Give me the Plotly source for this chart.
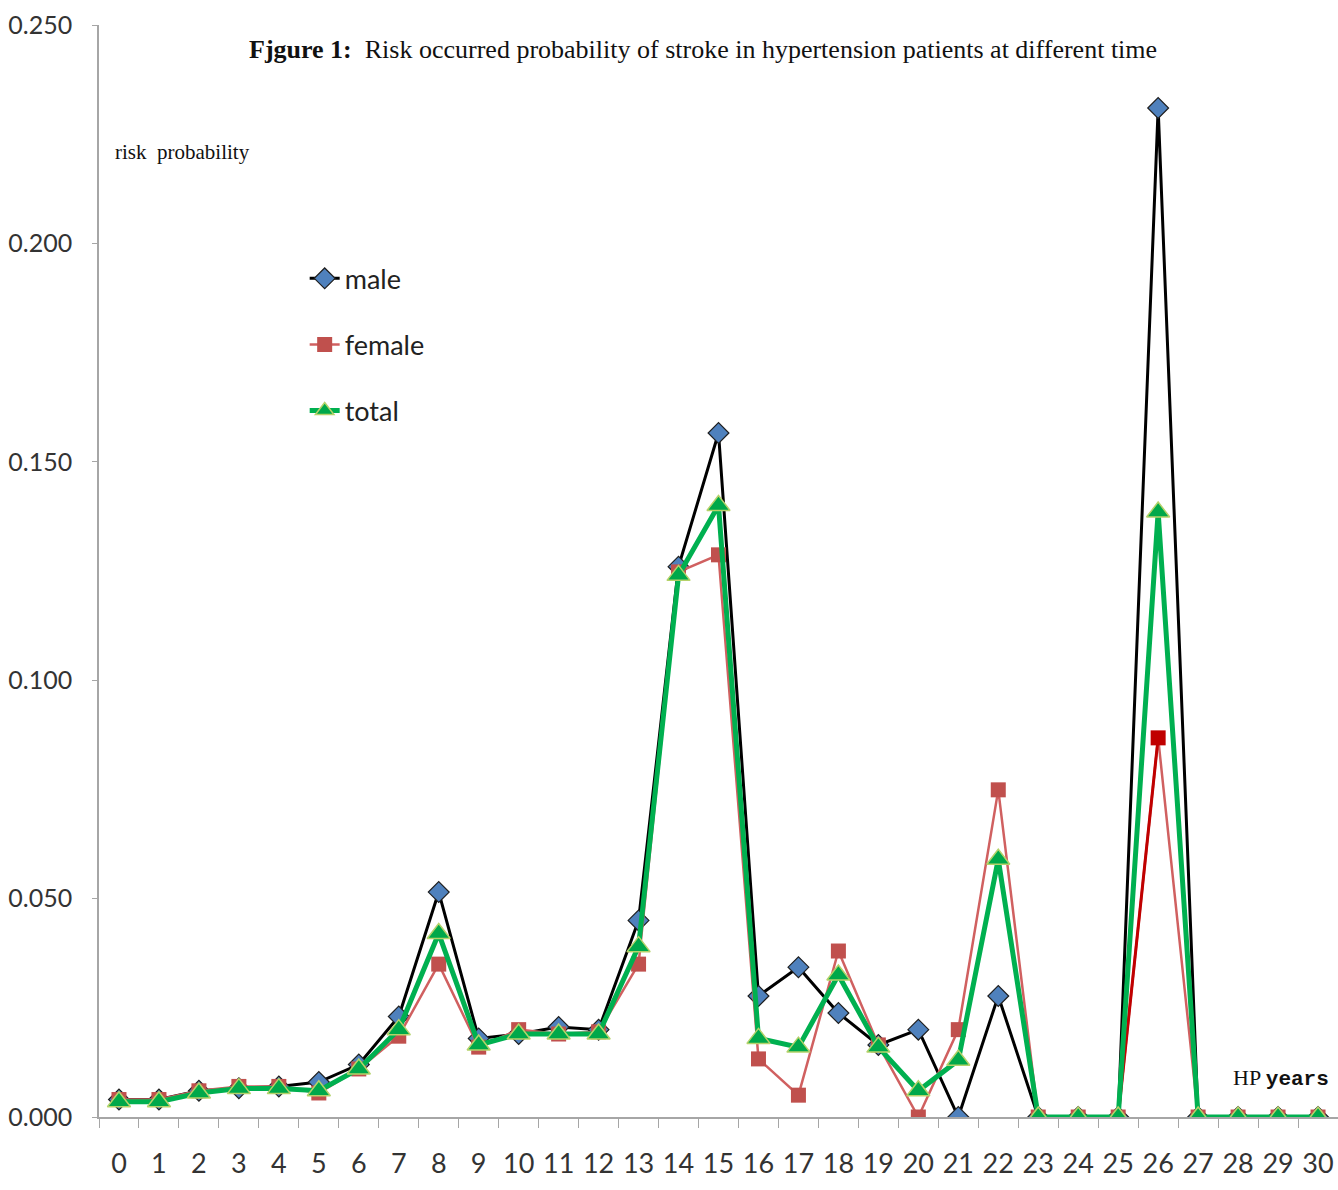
import plotly.graph_objects as go

# HP years (category axis) and risk probabilities by group
years = [str(i) for i in range(31)]

male = [0.004, 0.004, 0.006, 0.0066, 0.007, 0.008, 0.012, 0.023, 0.0515, 0.018,
        0.019, 0.0206, 0.020, 0.045, 0.126, 0.1566, 0.0277, 0.0343, 0.0238, 0.0165,
        0.020, 0.0, 0.0277, 0.0, 0.0, 0.0, 0.231, 0.0, 0.0, 0.0, 0.0]

female = [0.004, 0.004, 0.006, 0.007, 0.007, 0.0055, 0.011, 0.0185, 0.035, 0.016,
          0.020, 0.019, 0.0195, 0.035, 0.1248, 0.1287, 0.0133, 0.005, 0.038, 0.0165,
          0.0, 0.020, 0.0749, 0.0, 0.0, 0.0, 0.0868, 0.0, 0.0, 0.0, 0.0]

total = [0.0035, 0.0035, 0.0055, 0.0065, 0.0065, 0.006, 0.011, 0.020, 0.042, 0.0165,
         0.019, 0.019, 0.019, 0.039, 0.124, 0.140, 0.018, 0.016, 0.0325, 0.016,
         0.006, 0.013, 0.059, 0.0, 0.0, 0.0, 0.1385, 0.0, 0.0, 0.0, 0.0]

y_ticks = [0.0, 0.05, 0.10, 0.15, 0.20, 0.25]

FEMALE = "#c0504d"
FEMALE_DARK = "#c00000"
female_marker_colors = [FEMALE_DARK if y == "26" else FEMALE for y in years]

SANS = "Liberation Sans Narrow, Lato, sans-serif"
SERIF = "Liberation Serif, Times New Roman, serif"

fig = go.Figure()

fig.add_trace(go.Scatter(
    x=years, y=male, name="male", mode="lines+markers", legendgroup="m",
    line=dict(color="#000000", width=3),
    marker=dict(symbol="diamond", size=16, color="#4f81bd",
                line=dict(color="#1f1f1f", width=1.2)),
))

fig.add_trace(go.Scatter(
    x=years, y=female, name="female", mode="lines+markers", legendgroup="f",
    line=dict(color="#d06060", width=2.5),
    marker=dict(symbol="square", size=15, color=female_marker_colors,
                line=dict(width=0)),
))

# the rising segment into year 26 is drawn in a deeper red
fig.add_trace(go.Scatter(
    x=years[25:27], y=female[25:27], mode="lines", showlegend=False,
    line=dict(color=FEMALE_DARK, width=3), hoverinfo="skip",
))

fig.add_trace(go.Scatter(
    x=years, y=total, name="total", mode="lines+markers", legendgroup="t",
    line=dict(color="#00b050", width=5),
    marker=dict(symbol="triangle-up", size=20, color="#00a84a",
                line=dict(color="#b5d26a", width=1.5)),
))

fig.update_layout(
    width=1338, height=1190,
    margin=dict(l=99, r=0, t=25, b=73, autoexpand=False),
    paper_bgcolor="white", plot_bgcolor="white",
    showlegend=True,
    legend=dict(
        x=0.166, y=0.79, xanchor="left", yanchor="top",
        font=dict(family=SANS, size=27, color="#222222"),
        bgcolor="rgba(0,0,0,0)", tracegroupgap=28,
        itemwidth=30,
    ),
    font=dict(family=SANS, color="#333333"),
)

fig.update_xaxes(
    type="category", range=[-0.5, 30.5],
    tickmode="array", tickvals=years, ticktext=years, tickangle=0,
    tickson="boundaries", ticks="outside", ticklen=9, tickcolor="#a6a6a6",
    showline=True, linecolor="#a6a6a6", linewidth=1.5,
    showgrid=False, zeroline=False,
    tickfont=dict(family=SANS, size=27, color="#333333"),
    ticklabelstandoff=22,
)

fig.update_yaxes(
    range=[0, 0.25], tickvals=y_ticks, tickformat=".3f",
    ticks="outside", ticklen=5, tickcolor="#a6a6a6",
    showline=True, linecolor="#a6a6a6", linewidth=1.5,
    showgrid=False, zeroline=False,
    tickfont=dict(family=SANS, size=25, color="#333333"),
    ticklabelstandoff=15,
)

fig.add_annotation(
    xref="paper", yref="paper", x=0.4875, y=0.978, xanchor="center", yanchor="middle",
    text="<b>Fjgure 1:</b>  Risk occurred probability of stroke in hypertension patients at different time",
    showarrow=False, font=dict(family=SERIF, size=26, color="#111111"),
)
fig.add_annotation(
    xref="paper", yref="paper", x=0.011, y=0.884, xanchor="left", yanchor="middle",
    text="risk  probability", showarrow=False,
    font=dict(family=SERIF, size=21, color="#111111"),
)
fig.add_annotation(
    xref="paper", yref="paper", x=0.914, y=0.036, xanchor="left", yanchor="middle",
    text="HP <span style=\"font-family:'Liberation Mono', monospace; font-weight:bold; font-size:21px\">years</span>",
    showarrow=False, font=dict(family=SERIF, size=22, color="#111111"),
)

fig.write_html("out.html")
